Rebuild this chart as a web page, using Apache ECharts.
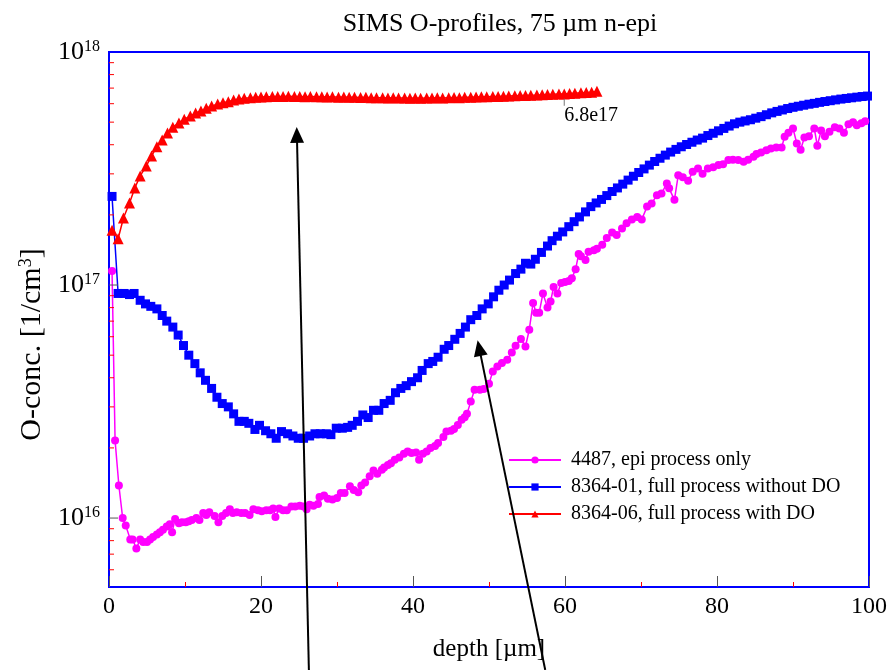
<!DOCTYPE html>
<html>
<head>
<meta charset="utf-8">
<script src="https://cdn.jsdelivr.net/npm/echarts@6/dist/echarts.min.js"></script>
<style>html,body{margin:0;padding:0;background:#fff}#main{width:890px;height:670px}</style>
</head>
<body>
<div id="main"></div>
<script>
// ---- data (depth in µm, O concentration in 1/cm^3) ----
const seriesNames = ['4487, epi process only', '8364-01, full process without DO', '8364-06, full process with DO'];

const epiOnly = [[0.4,1.15e17],[0.8,2.15e16],[1.3,1.38e16],[1.8,1.0e16],[2.2,9.3e15],[2.8,8.1e15],[3.1,8.1e15],[3.6,7.4e15],[4.1,8.1e15],[4.5,7.9e15],[5.0,7.9e15],[5.4,8.1e15],[5.8,8.3e15],[6.3,8.5e15],[6.7,8.7e15],[7.1,8.9e15],[7.6,9.2e15],[8.0,9.4e15],[8.3,8.7e15],[8.7,9.9e15],[9.2,9.5e15],[9.6,9.6e15],[10.1,9.6e15],[10.5,9.7e15],[10.9,9.8e15],[11.5,1.0e16],[11.9,9.8e15],[12.4,1.05e16],[12.8,1.03e16],[13.2,1.06e16],[13.9,1.02e16],[14.4,9.6e15],[14.9,1.02e16],[15.4,1.05e16],[15.9,1.09e16],[16.3,1.05e16],[16.8,1.06e16],[17.4,1.05e16],[17.9,1.05e16],[18.5,1.03e16],[19.0,1.09e16],[19.6,1.08e16],[20.1,1.07e16],[20.7,1.08e16],[21.2,1.08e16],[21.6,1.1e16],[21.9,1.01e16],[22.4,1.1e16],[22.9,1.08e16],[23.4,1.08e16],[24.0,1.12e16],[24.5,1.12e16],[25.1,1.13e16],[25.6,1.12e16],[26.0,1.09e16],[26.4,1.14e16],[26.9,1.13e16],[27.5,1.15e16],[27.7,1.23e16],[28.3,1.25e16],[28.8,1.21e16],[29.4,1.2e16],[30.0,1.22e16],[30.5,1.28e16],[31.0,1.28e16],[31.7,1.37e16],[32.2,1.32e16],[32.8,1.29e16],[33.2,1.38e16],[33.7,1.42e16],[34.3,1.51e16],[34.8,1.6e16],[35.3,1.55e16],[35.9,1.61e16],[36.2,1.65e16],[36.7,1.69e16],[37.1,1.72e16],[37.6,1.78e16],[38.2,1.82e16],[38.8,1.89e16],[39.3,1.93e16],[39.8,1.9e16],[40.4,1.91e16],[40.8,1.78e16],[41.3,1.89e16],[41.8,1.93e16],[42.3,2.0e16],[42.9,2.04e16],[43.3,2.1e16],[44.0,2.23e16],[44.4,2.35e16],[45.0,2.37e16],[45.4,2.41e16],[45.9,2.51e16],[46.4,2.64e16],[46.8,2.71e16],[47.1,2.8e16],[47.6,3.16e16],[48.1,3.55e16],[48.8,3.55e16],[49.3,3.58e16],[50.0,3.77e16],[50.5,4.26e16],[51.1,4.47e16],[51.7,4.63e16],[52.4,4.78e16],[53.0,5.14e16],[53.5,5.49e16],[54.2,5.87e16],[54.8,5.45e16],[55.3,6.43e16],[55.8,8.38e16],[56.2,7.6e16],[56.6,7.6e16],[57.1,9.2e16],[57.7,8.0e16],[58.1,8.5e16],[58.5,9.8e16],[59.0,9.2e16],[59.5,1.02e17],[60.0,1.03e17],[60.5,1.04e17],[60.9,1.07e17],[61.4,1.17e17],[61.8,1.36e17],[62.1,1.33e17],[62.7,1.28e17],[63.1,1.39e17],[63.8,1.41e17],[64.2,1.43e17],[64.9,1.49e17],[65.5,1.59e17],[66.2,1.68e17],[66.8,1.64e17],[67.5,1.75e17],[68.1,1.84e17],[68.8,1.91e17],[69.5,1.96e17],[70.1,1.91e17],[70.8,2.17e17],[71.4,2.24e17],[72.1,2.43e17],[72.7,2.47e17],[73.4,2.73e17],[73.7,2.6e17],[74.4,2.32e17],[74.9,2.96e17],[75.5,2.9e17],[76.2,2.8e17],[76.8,3.06e17],[77.5,3.16e17],[78.1,3.0e17],[78.8,3.16e17],[79.5,3.2e17],[80.2,3.27e17],[80.8,3.3e17],[81.5,3.44e17],[82.1,3.45e17],[82.8,3.44e17],[83.5,3.38e17],[84.1,3.45e17],[84.8,3.55e17],[85.2,3.65e17],[85.8,3.7e17],[86.5,3.79e17],[87.1,3.85e17],[87.8,3.89e17],[88.5,3.89e17],[88.9,4.33e17],[89.4,4.5e17],[90.0,4.7e17],[90.5,4.05e17],[91.0,3.81e17],[91.5,4.3e17],[92.1,4.35e17],[92.8,4.7e17],[93.2,3.96e17],[93.7,4.6e17],[94.2,4.35e17],[94.8,4.55e17],[95.5,4.75e17],[96.1,4.7e17],[96.7,4.5e17],[97.3,4.9e17],[97.9,5.0e17],[98.4,4.85e17],[99.0,4.95e17],[99.5,5.05e17]];

const fullNoDO = [[0.4,2.4e17],[1.2,9.2e16],[2.0,9.2e16],[2.7,9.1e16],[3.3,9.2e16],[4.1,8.6e16],[4.8,8.3e16],[5.5,8.1e16],[6.3,7.9e16],[7.0,7.4e16],[7.6,7.0e16],[8.4,6.6e16],[9.1,6.1e16],[9.8,5.5e16],[10.5,5.0e16],[11.3,4.6e16],[12.0,4.2e16],[12.7,3.9e16],[13.5,3.6e16],[14.2,3.3e16],[14.9,3.1e16],[15.7,3.0e16],[16.4,2.8e16],[17.1,2.6e16],[17.8,2.6e16],[18.4,2.55e16],[19.2,2.4e16],[19.8,2.5e16],[20.6,2.37e16],[21.3,2.3e16],[22.0,2.2e16],[22.7,2.35e16],[23.5,2.3e16],[24.2,2.25e16],[24.9,2.2e16],[25.6,2.2e16],[26.4,2.25e16],[27.1,2.3e16],[27.8,2.3e16],[28.6,2.3e16],[29.2,2.28e16],[29.9,2.43e16],[30.7,2.43e16],[31.4,2.45e16],[32.0,2.5e16],[32.7,2.6e16],[33.4,2.77e16],[34.1,2.7e16],[34.8,2.9e16],[35.5,2.9e16],[36.2,3.1e16],[37.0,3.2e16],[37.7,3.45e16],[38.4,3.6e16],[39.1,3.7e16],[39.8,3.85e16],[40.6,4.0e16],[41.2,4.3e16],[42.0,4.6e16],[42.6,4.7e16],[43.3,4.9e16],[44.1,5.3e16],[44.7,5.5e16],[45.5,5.85e16],[46.2,6.2e16],[46.9,6.6e16],[47.6,7.1e16],[48.4,7.4e16],[49.1,7.9e16],[49.9,8.3e16],[50.6,8.9e16],[51.3,9.5e16],[52.0,1.0e17],[52.7,1.05e17],[53.5,1.12e17],[54.2,1.17e17],[54.8,1.24e17],[55.5,1.23e17],[56.1,1.29e17],[56.9,1.38e17],[57.7,1.47e17],[58.3,1.55e17],[59.0,1.62e17],[59.7,1.69e17],[60.5,1.78e17],[61.2,1.87e17],[61.9,1.96e17],[62.7,2.06e17],[63.4,2.17e17],[64.1,2.25e17],[64.8,2.33e17],[65.5,2.42e17],[66.2,2.52e17],[66.9,2.61e17],[67.6,2.71e17],[68.3,2.82e17],[69.0,2.93e17],[69.7,3.04e17],[70.4,3.15e17],[71.1,3.27e17],[71.8,3.39e17],[72.5,3.5e17],[73.2,3.61e17],[73.9,3.72e17],[74.6,3.82e17],[75.3,3.92e17],[76.0,4.01e17],[76.7,4.1e17],[77.4,4.19e17],[78.1,4.27e17],[78.8,4.38e17],[79.5,4.48e17],[80.2,4.59e17],[80.9,4.7e17],[81.6,4.81e17],[82.3,4.92e17],[83.0,5.0e17],[83.7,5.06e17],[84.4,5.12e17],[85.1,5.2e17],[85.8,5.28e17],[86.5,5.38e17],[87.2,5.48e17],[87.9,5.56e17],[88.6,5.64e17],[89.3,5.72e17],[90.0,5.79e17],[90.7,5.85e17],[91.4,5.91e17],[92.1,5.97e17],[92.8,6.02e17],[93.5,6.08e17],[94.2,6.13e17],[94.9,6.18e17],[95.6,6.23e17],[96.3,6.28e17],[97.0,6.32e17],[97.7,6.36e17],[98.4,6.4e17],[99.1,6.44e17],[99.8,6.47e17]];

const fullWithDO = [[0.4,1.72e17],[1.2,1.58e17],[1.9,1.94e17],[2.7,2.25e17],[3.4,2.61e17],[4.1,2.94e17],[4.9,3.24e17],[5.6,3.58e17],[6.3,3.92e17],[7.0,4.19e17],[7.7,4.49e17],[8.4,4.76e17],[9.2,4.96e17],[9.9,5.15e17],[10.7,5.31e17],[11.4,5.47e17],[12.1,5.58e17],[12.8,5.74e17],[13.5,5.86e17],[14.3,5.98e17],[15.0,6.06e17],[15.7,6.12e17],[16.4,6.23e17],[17.1,6.28e17],[17.8,6.33e17],[18.6,6.36e17],[19.3,6.39e17],[20.0,6.41e17],[20.7,6.43e17],[21.5,6.44e17],[22.2,6.45e17],[22.9,6.44e17],[23.6,6.46e17],[24.4,6.44e17],[25.1,6.45e17],[25.8,6.43e17],[26.5,6.44e17],[27.3,6.42e17],[28.0,6.43e17],[28.7,6.41e17],[29.4,6.42e17],[30.2,6.4e17],[30.9,6.41e17],[31.6,6.39e17],[32.3,6.4e17],[33.1,6.38e17],[33.8,6.39e17],[34.5,6.37e17],[35.2,6.36e17],[36.0,6.37e17],[36.7,6.35e17],[37.4,6.36e17],[38.1,6.34e17],[38.9,6.35e17],[39.6,6.33e17],[40.3,6.34e17],[41.0,6.33e17],[41.8,6.35e17],[42.5,6.34e17],[43.2,6.36e17],[43.9,6.35e17],[44.7,6.37e17],[45.4,6.38e17],[46.1,6.37e17],[46.8,6.39e17],[47.6,6.4e17],[48.3,6.41e17],[49.0,6.42e17],[49.7,6.43e17],[50.5,6.44e17],[51.2,6.45e17],[51.9,6.46e17],[52.6,6.47e17],[53.4,6.49e17],[54.1,6.5e17],[54.8,6.51e17],[55.5,6.53e17],[56.3,6.54e17],[57.0,6.55e17],[57.7,6.57e17],[58.4,6.58e17],[59.2,6.6e17],[59.9,6.61e17],[60.6,6.63e17],[61.3,6.66e17],[62.1,6.68e17],[62.8,6.7e17],[63.5,6.72e17],[64.2,6.78e17]];

// axis ticks / labels
const xMin = 0, xMax = 100, xStep = 20;
const yMin = 5.06e15, yMax = 1e18;
const yMajorTicks = [1e16, 1e17];
const yMinorTicks = [6e15,7e15,8e15,9e15,2e16,3e16,4e16,5e16,6e16,7e16,8e16,9e16,2e17,3e17,4e17,5e17,6e17,7e17,8e17,9e17];

// annotations (data coordinates)
const annotText = '6.8e17';
const annotAnchor = [59.9, 6.3e17];
const arrows = [
  { tail: [26.3, 2.23e15], tip: [24.7, 4.77e17] },
  { tail: [57.4, 2.23e15], tip: [48.5, 5.8e16] }
];

const FONT = "'Liberation Serif', 'Times New Roman', serif";
const colors = ['#ff00ff', '#0000ff', '#ff0000'];

const chart = echarts.init(document.getElementById('main'), null, { renderer: 'canvas' });

function tickItem(kind) {
  return function (params, api) {
    const p = api.coord([api.value(0), api.value(1)]);
    const len = kind === 'major' ? 9 : 5;
    return {
      type: 'line',
      shape: { x1: p[0], y1: p[1], x2: p[0] + len, y2: p[1] },
      style: { stroke: kind === 'major' ? '#555' : '#ff0000', lineWidth: 1 }
    };
  };
}

const option = {
  animation: false,
  backgroundColor: '#fff',
  title: {
    text: 'SIMS O-profiles, 75 µm n-epi',
    left: 495, top: 6, textAlign: 'center',
    textStyle: { fontFamily: FONT, fontSize: 26, fontWeight: 'normal', color: '#000' }
  },
  legend: {
    orient: 'vertical', left: 503, top: 445,
    itemWidth: 52, itemHeight: 9, itemGap: 7,
    data: seriesNames,
    textStyle: { fontFamily: FONT, fontSize: 20, color: '#000', lineHeight: 20, padding: [0, 0, 0, 5] }
  },
  grid: { left: 109, right: 20, top: 52, bottom: 83, show: true, borderColor: '#0000ff', borderWidth: 2, backgroundColor: 'transparent' },
  xAxis: {
    type: 'value', min: xMin, max: xMax, interval: xStep,
    name: 'depth [µm]', nameLocation: 'middle', nameGap: 50,
    nameTextStyle: { fontFamily: FONT, fontSize: 25, color: '#000' },
    axisLine: { show: true, lineStyle: { color: '#0000ff', width: 2 } },
    axisTick: { show: true, inside: true, length: 11, lineStyle: { color: '#555' } },
    minorTick: { show: true, splitNumber: 2, length: 5, lineStyle: { color: '#ff0000', width: 1 } },
    splitLine: { show: false },
    axisLabel: { fontFamily: FONT, fontSize: 24, color: '#000', margin: 8 }
  },
  yAxis: {
    type: 'log', logBase: 10, min: yMin, max: yMax,
    name: '{n|O-conc. [1/cm}{s|3}{n|]}', nameLocation: 'middle', nameRotate: 90, nameGap: 60,
    nameTextStyle: {
      padding: [0, 50, 0, 0],
      rich: {
        n: { fontFamily: FONT, fontSize: 30, color: '#000' },
        s: { fontFamily: FONT, fontSize: 18, color: '#000', verticalAlign: 'top' }
      }
    },
    axisLine: { show: true, lineStyle: { color: '#0000ff', width: 2 } },
    axisTick: { show: false },
    minorTick: { show: false },
    splitLine: { show: false },
    axisLabel: {
      margin: 9,
      formatter: function (v) {
        const l = Math.log10(v);
        const e = Math.round(l);
        if (Math.abs(l - e) > 1e-6) return '';
        return '{b|10}{s|' + e + '}';
      },
      rich: {
        b: { fontFamily: FONT, fontSize: 26, color: '#000' },
        s: { fontFamily: FONT, fontSize: 16, color: '#000', verticalAlign: 'top' }
      }
    }
  },
  series: [
    {
      name: seriesNames[0], type: 'line', data: epiOnly,
      symbol: 'circle', symbolSize: 8, color: colors[0],
      lineStyle: { color: colors[0], width: 1.5 }, itemStyle: { color: colors[0] }, z: 3
    },
    {
      name: seriesNames[1], type: 'line', data: fullNoDO,
      symbol: 'rect', symbolSize: 9, color: colors[1],
      lineStyle: { color: colors[1], width: 1.5 }, itemStyle: { color: colors[1] }, z: 4
    },
    {
      name: seriesNames[2], type: 'line', data: fullWithDO,
      symbol: 'triangle', symbolSize: 11, color: colors[2],
      lineStyle: { color: colors[2], width: 1.5 }, itemStyle: { color: colors[2] }, z: 5
    },
    {
      name: 'yMajor', type: 'custom', silent: true, z: 6,
      data: yMajorTicks.map(v => [xMin, v]), renderItem: tickItem('major')
    },
    {
      name: 'yMinor', type: 'custom', silent: true, z: 6,
      data: yMinorTicks.map(v => [xMin, v]), renderItem: tickItem('minor')
    }
  ]
};

chart.setOption(option);

// annotations placed through the chart's own coordinate conversion
function px(pt) { return chart.convertToPixel({ gridIndex: 0 }, pt); }
const gfx = [];
arrows.forEach(function (ar) {
  const a = px(ar.tail), b = px(ar.tip);
  const dx = b[0] - a[0], dy = b[1] - a[1];
  const L = Math.hypot(dx, dy);
  const ux = dx / L, uy = dy / L;
  const headLen = 16, headHalf = 7;
  const base = [b[0] - ux * headLen, b[1] - uy * headLen];
  const nx = -uy, ny = ux;
  gfx.push({ type: 'line', z: 100, silent: true,
    shape: { x1: a[0], y1: a[1], x2: base[0] + ux * 2, y2: base[1] + uy * 2 },
    style: { stroke: '#000', lineWidth: 2 } });
  gfx.push({ type: 'polygon', z: 100, silent: true,
    shape: { points: [b, [base[0] + nx * headHalf, base[1] + ny * headHalf], [base[0] - nx * headHalf, base[1] - ny * headHalf]] },
    style: { fill: '#000' } });
});
const an = px(annotAnchor);
gfx.push({ type: 'line', z: 100, silent: true,
  shape: { x1: an[0], y1: an[1], x2: an[0], y2: an[1] + 7 },
  style: { stroke: '#777', lineWidth: 1 } });
gfx.push({ type: 'text', z: 100, silent: true, x: an[0], y: an[1] + 7,
  style: { text: annotText, fontFamily: FONT, fontSize: 20, fill: '#000', textAlign: 'left', textVerticalAlign: 'top' } });
chart.setOption({ graphic: gfx });
</script>
</body>
</html>
